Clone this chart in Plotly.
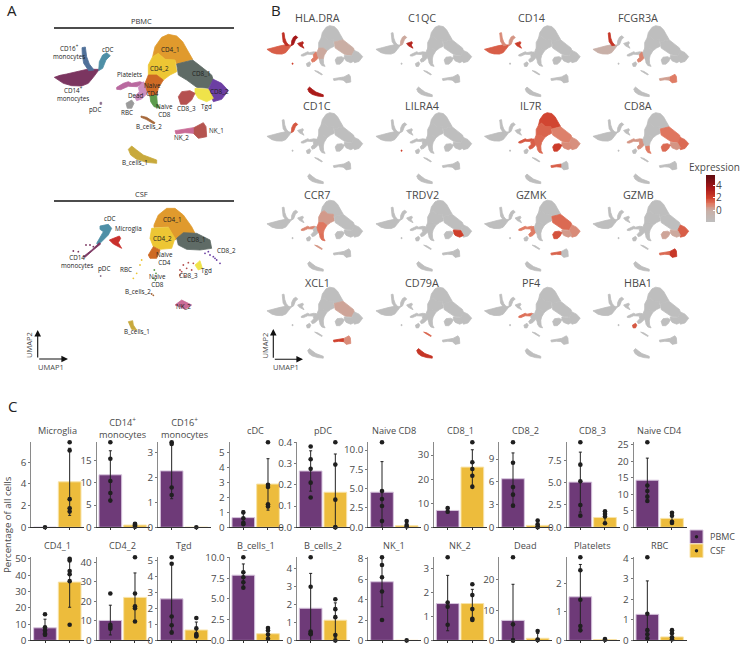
import plotly.graph_objects as go
from plotly.colors import sample_colorscale

W, H = 741, 647
FONT = "Open Sans"
TXT = "#4a4a4a"

# ------------------------- panel C data -------------------------
PANELS = ["Microglia", "CD14<sup>+</sup><br>monocytes", "CD16<sup>+</sup><br>monocytes", "cDC", "pDC",
          "Naive CD8", "CD8_1", "CD8_2", "CD8_3", "Naive CD4",
          "CD4_1", "CD4_2", "Tgd", "B_cells_1", "B_cells_2",
          "NK_1", "NK_2", "Dead", "Platelets", "RBC"]
Y_MAX = [7.85, 19.1, 3.42, 5.7, 0.4, 11.0, 35.3, 11.2, 9.5, 25.8,
         50.9, 42.5, 5.2, 10.0, 4.65, 8.15, 3.45, 27.4, 2.9, 4.05]
Y_TICKS = [["0", "2", "4", "6"], ["0", "5", "10", "15"], ["0", "1", "2", "3"], ["0", "1", "2", "3", "4", "5"],
           ["0.0", "0.1", "0.2", "0.3", "0.4"], ["0.0", "2.5", "5.0", "7.5", "10.0"], ["0", "10", "20", "30"],
           ["0", "3", "6", "9"], ["0.0", "2.5", "5.0", "7.5"], ["0", "5", "10", "15", "20", "25"],
           ["0", "10", "20", "30", "40", "50"], ["0", "10", "20", "30", "40"], ["0", "1", "2", "3", "4", "5"],
           ["0.0", "2.5", "5.0", "7.5", "10.0"], ["0", "1", "2", "3", "4"], ["0", "2", "4", "6", "8"],
           ["0", "1", "2", "3"], ["0", "10", "20"], ["0", "1", "2"], ["0", "1", "2", "3", "4"]]
PBMC_MEAN = [0, 11.8, 2.27, 0.65, 0.265, 4.55, 7.0, 6.4, 5.05, 14.3,
             7.7, 10.2, 2.6, 7.85, 1.8, 5.75, 1.53, 6.6, 1.52, 1.27]
PBMC_LO = [0, 6.0, 1.15, 0.2, 0.17, 0, 6.0, 2.7, 1.7, 7.8,
           2.7, 2.8, 0.4, 6.4, 0, 3.3, 0.4, 0, 0.4, 0]
PBMC_HI = [0, 17.2, 3.42, 1.1, 0.36, 8.5, 8.0, 9.8, 8.4, 21.0,
           13.0, 18.0, 4.85, 9.2, 3.75, 8.15, 2.7, 18.5, 2.65, 2.9]
PBMC_POINTS = [[0], [19.1, 15.4, 10.4, 7.7, 6.0], [3.42, 3.35, 1.6, 1.3], [1.0, 0.6, 0.3, 0.2],
               [0.38, 0.32, 0.275, 0.21, 0.14], [11.0, 4.7, 3.65, 2.75, 0.8], [8.0, 6.5],
               [11.2, 8.5, 5.3, 4.3, 2.85], [9.5, 7.0, 5.15, 2.5, 1.3], [25.8, 12.7, 11.0, 9.3, 8.0],
               [16.0, 8.0, 6.0, 4.0, 3.5], [24.0, 8.0, 7.0, 6.0], [5.2, 4.8, 1.5, 0.95, 0.5],
               [10.0, 8.2, 7.6, 7.0, 6.35], [4.65, 3.0, 0.5, 0.4, 0.35], [8.15, 7.4, 6.2, 4.8, 2.0],
               [3.45, 1.57, 1.4, 0.65], [27.4, 5.3, 0, 0], [2.9, 2.45, 1.42, 0.5, 0.35], [4.05, 1.3, 0.5, 0.3, 0.1]]
CSF_MEAN = [4.2, 0.5, 0, 2.9, 0.165, 0.2, 25.0, 0.25, 1.1, 2.7,
            35.7, 22.0, 0.65, 0.8, 1.13, 0, 1.53, 0.7, 0.03, 0.17]
CSF_LO = [1.1, 0.1, 0, 1.15, 0, 0, 17.5, 0, 0.45, 1.1,
          20.3, 9.8, 0.2, 0, 0.15, 0, 0.87, 0, 0, 0]
CSF_HI = [7.3, 0.9, 0, 4.6, 0.345, 0.6, 32.2, 0.8, 1.7, 4.3,
          50.9, 34.5, 1.15, 1.6, 2.1, 0, 2.12, 2.3, 0.05, 0.42]
CSF_POINTS = [[7.85, 7.1, 2.6, 1.75, 1.45], [0.8, 0.6, 0.4, 0.1], [0], [5.7, 2.85, 2.7, 1.55, 1.4],
              [0.4, 0.295, 0.13, 0, 0], [0.8, 0.3, 0.1], [35.3, 27.0, 24.2, 21.4, 16.8], [0.9, 0.4, 0.1, 0],
              [1.8, 1.5, 1.2, 0.45], [4.4, 3.5, 1.7, 1.3], [50.0, 49.0, 42.5, 40.5, 36.3, 9.6],
              [42.5, 24.0, 17.5, 16.5, 9.7], [1.4, 0.75, 0.4, 0.3, 0.25], [1.5, 1.2, 0.7, 0.2],
              [2.3, 1.75, 1.3, 0.3, 0], [0], [2.33, 1.88, 1.3, 0.9, 0.85], [3.1, 0.3, 0.1], [0.05, 0.02],
              [0.5, 0.35, 0.15, 0.05]]

# ------------------------- UMAP outlines -------------------------
CLUSTER_COLOR = {"CD14_mono": "#7B3560", "CD16_mono": "#4F7099", "cDC": "#4E8FA6", "Microglia": "#C9302C",
                 "pDC": "#8B6F8F", "Platelets": "#B9699F", "Dead": "#CC8FC0", "RBC": "#9A9A9A",
                 "Naive_CD4": "#CE6A24", "Naive_CD8": "#5D9B4C", "CD4_1": "#E09A2D", "CD4_2": "#EDC634",
                 "CD8_1": "#5F6B66", "CD8_2": "#6C3FA3", "CD8_3": "#B5504F", "Tgd": "#EFE34A",
                 "NK_1": "#B5544F", "NK_2": "#C96B96", "B_cells_1": "#C8A93C", "B_cells_2": "#A6683A"}
PBMC_SHAPES = {
    "CD14_mono": [(163, 232), (180, 226), (200, 222), (235, 213), (265, 207), (285, 208), (298, 208), (280, 232), (265, 250), (245, 258), (215, 257), (190, 250), (170, 238)],
    "CD16_mono": [(246, 143), (256, 141), (260, 170), (268, 192), (282, 210), (266, 212), (251, 190), (247, 165)],
    "cDC": [(320, 158), (331, 167), (318, 180), (308, 205), (296, 212), (298, 185), (308, 165)],
    "pDC": [(300, 307), (305, 307), (305, 313), (300, 313)],
    "Platelets": [(350, 262), (370, 250), (385, 245), (395, 250), (420, 245), (432, 250), (410, 260), (385, 259), (362, 269), (350, 268)],
    "Dead": [(430, 245), (445, 265), (440, 282), (425, 297), (410, 302), (404, 290), (418, 275), (415, 262)],
    "RBC": [(378, 310), (395, 300), (402, 310), (395, 325), (382, 325)],
    "CD4_1": [(458, 170), (465, 140), (485, 112), (505, 103), (530, 108), (548, 125), (562, 150), (578, 178), (555, 185), (530, 192), (525, 180), (495, 178), (475, 160)],
    "CD4_2": [(458, 170), (475, 160), (495, 178), (525, 180), (530, 215), (510, 225), (490, 240), (470, 225), (445, 225), (445, 195)],
    "CD8_1": [(530, 192), (555, 185), (578, 180), (610, 205), (635, 225), (640, 240), (625, 265), (590, 262), (560, 240), (535, 225)],
    "CD8_2": [(640, 238), (665, 250), (685, 272), (665, 298), (640, 305), (625, 268)],
    "Tgd": [(585, 265), (625, 268), (640, 295), (620, 305), (595, 295), (585, 280)],
    "CD8_3": [(535, 290), (545, 275), (570, 272), (585, 280), (575, 300), (560, 313), (542, 313)],
    "Naive_CD4": [(435, 250), (445, 225), (470, 225), (490, 240), (475, 265), (470, 285), (450, 290), (440, 270)],
    "Naive_CD8": [(450, 288), (470, 285), (472, 310), (480, 325), (462, 320), (452, 305)],
    "B_cells_2": [(423, 348), (440, 352), (465, 368), (462, 372), (438, 358), (423, 352)],
    "NK_1": [(578, 385), (610, 368), (618, 380), (620, 410), (595, 415), (580, 400)],
    "NK_2": [(525, 392), (550, 388), (580, 383), (580, 400), (555, 398), (528, 402)],
    "B_cells_1": [(385, 448), (395, 438), (410, 450), (430, 465), (470, 480), (470, 490), (440, 487), (410, 478), (392, 465)],
}
MICROGLIA_SHAPE = [(330, 200), (358, 190), (362, 197), (355, 208), (365, 226), (355, 221), (340, 213)]
CSF_SHAPES = {
    "cDC": [(300, 108), (325, 103), (335, 115), (325, 135), (310, 150), (295, 165), (290, 160), (300, 140), (310, 125), (300, 118)],
    "Microglia": [(328, 150), (358, 138), (362, 145), (355, 158), (365, 175), (355, 170), (340, 162)],
    "CD14_mono": [(250, 200), (275, 180), (298, 158), (302, 162), (280, 180), (255, 202)],
    "CD4_1": [(462, 105), (475, 75), (500, 55), (525, 55), (550, 75), (575, 110), (585, 130), (550, 130), (525, 150), (505, 110), (462, 112)],
    "CD4_2": [(455, 115), (505, 112), (525, 145), (515, 175), (480, 178), (460, 170), (450, 145)],
    "CD8_1": [(530, 145), (550, 128), (590, 130), (630, 150), (635, 175), (600, 180), (560, 178), (535, 165)],
    "Naive_CD4": [(445, 195), (460, 170), (480, 180), (470, 205), (450, 205)],
    "Tgd": [(585, 225), (600, 212), (607, 235), (595, 240)],
    "NK_2": [(525, 345), (545, 330), (565, 340), (575, 345), (555, 358), (540, 350)],
    "B_cells_1": [(385, 395), (398, 392), (400, 405), (410, 420), (395, 418), (388, 405)],
}
CSF_SPARSE = {
    "CD14_mono": [(220, 183), (258, 165), (270, 165), (235, 185), (280, 170)],
    "CD8_2": [(615, 190), (630, 195), (640, 200), (650, 210), (660, 220), (645, 205), (625, 185)],
    "CD8_3": [(540, 240), (550, 225), (565, 218), (580, 220), (575, 240), (555, 258), (540, 255), (545, 245), (560, 235)],
    "Naive_CD8": [(463, 240), (468, 250), (460, 265), (466, 270)],
    "CD4_2": [(425, 210), (420, 225), (410, 250), (400, 265)],
    "B_cells_2": [(455, 312), (460, 316)],
    "pDC": [(302, 258)],
}
PBMC_LABELS = [("CD16<sup>+</sup><br>monocytes", 208, 155), ("cDC", 323, 147), ("CD14<sup>+</sup><br>monocytes", 218, 282),
               ("Platelets", 388, 222), ("Naive<br>CD4", 458, 267), ("Dead", 407, 287), ("pDC", 285, 328), ("RBC", 382, 338),
               ("Naive<br>CD8", 493, 330), ("CD8_3", 560, 326), ("Tgd", 620, 318), ("CD8_1", 603, 220), ("CD8_2", 657, 274),
               ("CD4_1", 512, 148), ("CD4_2", 478, 206), ("B_cells_2", 447, 380), ("NK_1", 648, 390), ("NK_2", 545, 412),
               ("B_cells_1", 405, 488)]
CSF_LABELS = [("cDC", 330, 85), ("Microglia", 384, 115), ("CD14<br>monocytes", 232, 213), ("pDC", 313, 235), ("RBC", 378, 238),
              ("CD4_1", 518, 87), ("CD4_2", 486, 145), ("CD8_1", 588, 148), ("CD8_2", 678, 182), ("Naive<br>CD4", 493, 205),
              ("Naive<br>CD8", 472, 272), ("CD8_3", 565, 257), ("Tgd", 620, 241), ("B_cells_2", 413, 304), ("NK_2", 550, 349),
              ("B_cells_1", 410, 425)]

# ------------------------- panel B expression per cluster -------------------------
GENES = ["HLA.DRA", "C1QC", "CD14", "FCGR3A", "CD1C", "LILRA4", "IL7R", "CD8A",
         "CCR7", "TRDV2", "GZMK", "GZMB", "XCL1", "CD79A", "PF4", "HBA1"]
GENE_EXPR = [
    {"CD14_mono": 1.5, "CD16_mono": 2.6, "cDC": 3.6, "Microglia": 3.0, "pDC": 2.0, "B_cells_1": 3.4, "Dead": 1.0, "Naive_CD4": 0.1, "CD8_1": 0.0},
    {"Microglia": 3.0, "cDC": 0.1},
    {"CD14_mono": 1.5, "CD16_mono": 0.7, "Microglia": 2.2, "cDC": 0.5},
    {"CD16_mono": 2.4, "CD14_mono": -0.2, "NK_1": 1.0, "NK_2": 0.3, "Dead": 0.8},
    {"cDC": 1.6},
    {"pDC": 2.0},
    {"CD4_1": 1.9, "CD4_2": 1.4, "Naive_CD4": 1.3, "Naive_CD8": 1.3, "CD8_1": 0.9, "CD8_3": 2.1, "Tgd": 0.7, "CD8_2": 0.6, "Platelets": 1.6, "Dead": 1.5, "NK_2": 1.5},
    {"CD8_1": 1.1, "CD8_2": 1.3, "CD8_3": 1.3, "Naive_CD8": 1.0, "Tgd": 0.5, "Dead": 0.6, "Platelets": 0.5},
    {"Naive_CD4": 1.1, "CD4_2": 0.4, "Naive_CD8": 1.2, "Platelets": 0.8, "B_cells_2": 0.5},
    {"Tgd": 2.0},
    {"CD8_1": 1.3, "CD8_3": 1.7, "CD8_2": 0.7, "Tgd": 0.4, "NK_2": 1.4, "Dead": 1.0, "Platelets": 1.0},
    {"CD8_2": 1.5, "NK_1": 2.3, "NK_2": 1.3, "CD8_3": 0.2, "Tgd": 0.1},
    {"NK_2": 2.0, "NK_1": 0.7, "CD8_1": 0.2},
    {"B_cells_1": 2.4, "B_cells_2": 1.4},
    {"Platelets": 1.2},
    {"RBC": 1.6},
]
CB_MIN, CB_MAX = -1.9, 5.6
CB_SCALE = [[0, "#BEBEBE"], [0.25, "#C9AFA6"], [0.39, "#E07B63"], [0.52, "#CF3F2B"], [0.72, "#A81818"], [1, "#5E0A10"]]
CB_TICKS = ["0", "2", "4"]

# ------------------------- layout geometry (pixels) -------------------------
fig = go.Figure()
layout = {}
annots = []
shapes = []
axis_no = [0]


def px_x(p):
    return p / W


def px_y(p):
    return 1 - p / H


def new_axes(x0, x1, y0, y1, xopts, yopts):
    axis_no[0] += 1
    n = axis_no[0]
    sx = "" if n == 1 else str(n)
    layout["xaxis" + sx] = dict(domain=[px_x(x0), px_x(x1)], anchor="y" + sx, **xopts)
    layout["yaxis" + sx] = dict(domain=[px_y(y1), px_y(y0)], anchor="x" + sx, **yopts)
    return "x" + sx, "y" + sx


HIDE = dict(visible=False, fixedrange=True)


def poly(pts, color, xr, yr):
    fig.add_trace(go.Scatter(x=[p[0] for p in pts] + [pts[0][0]], y=[p[1] for p in pts] + [pts[0][1]],
                             mode="lines", fill="toself", fillcolor=color,
                             line=dict(color=color, width=0.8),
                             hoverinfo="skip", showlegend=False, xaxis=xr, yaxis=yr))


def label(text, x, y, xr, yr, size=6.3):
    annots.append(dict(text=text, x=x, y=y, xref=xr, yref=yr, showarrow=False,
                       font=dict(family=FONT, size=size, color="#222222"), align="center", xanchor="center", yanchor="middle"))


# Panel A
UX0, UX1, UY_SPAN = 150, 700, 420
xa, ya = new_axes(50, 233.33, 30, 170, dict(range=[UX0, UX1], **HIDE), dict(range=[90 + UY_SPAN, 90], **HIDE))
for name, pts in PBMC_SHAPES.items():
    poly(pts, CLUSTER_COLOR[name], xa, ya)
for t, x, y in PBMC_LABELS:
    label(t, x, y, xa, ya)

xa, ya = new_axes(50, 233.33, 203, 343, dict(range=[UX0, UX1], **HIDE), dict(range=[39 + UY_SPAN, 39], **HIDE))
for name, pts in CSF_SHAPES.items():
    poly(pts, CLUSTER_COLOR[name], xa, ya)
for name, pts in CSF_SPARSE.items():
    fig.add_trace(go.Scatter(x=[p[0] for p in pts], y=[p[1] for p in pts], mode="markers",
                             marker=dict(size=1.8, color=CLUSTER_COLOR[name]), hoverinfo="skip",
                             showlegend=False, xaxis=xa, yaxis=ya))
for t, x, y in CSF_LABELS:
    label(t, x, y, xa, ya)

# Panel B
COL_LEFT = [264.6, 373.6, 482.1, 590.6]
TITLE_X = [317, 422, 531, 638]
ROW_TOP = [23.3, 110.3, 197.8, 284.8]
TITLE_Y = [18, 106, 194, 282]
SCALE = 0.55
for i, g in enumerate(GENES):
    c, r = i % 4, i // 4
    x0, y0 = COL_LEFT[c], ROW_TOP[r]
    xa, ya = new_axes(x0, x0 + 550 / 3 * SCALE, y0, y0 + 140 * SCALE,
                      dict(range=[UX0, UX1], **HIDE), dict(range=[90 + UY_SPAN, 90], **HIDE))
    expr = GENE_EXPR[i]
    shapes_here = dict(PBMC_SHAPES)
    shapes_here["Microglia"] = MICROGLIA_SHAPE
    for name, pts in shapes_here.items():
        val = expr.get(name)
        col = "#BEBEBE" if val is None else sample_colorscale(CB_SCALE, (val - CB_MIN) / (CB_MAX - CB_MIN))[0]
        poly(pts, col, xa, ya)
    annots.append(dict(text=g, x=px_x(TITLE_X[c]), y=px_y(TITLE_Y[r]), xref="paper", yref="paper", showarrow=False,
                       font=dict(family=FONT, size=10.8, color=TXT), xanchor="center", yanchor="middle"))

# Colour bar drawn on its own small axis
N_GRAD = 60
grad = [CB_MIN + (CB_MAX - CB_MIN) * k / (N_GRAD - 1) for k in range(N_GRAD)]
xa, ya = new_axes(706, 715, 175, 222, dict(range=[0, 1], **HIDE),
                  dict(range=[CB_MIN, CB_MAX], side="right", tickmode="array", tickvals=[float(t) for t in CB_TICKS], ticktext=CB_TICKS,
                       ticks="inside", ticklen=2, tickcolor="white", showline=False, showgrid=False, zeroline=False, fixedrange=True,
                       tickfont=dict(family=FONT, size=10, color=TXT)))
fig.add_trace(go.Heatmap(x=[0, 1], y=grad, z=[[v, v] for v in grad], zmin=CB_MIN, zmax=CB_MAX, colorscale=CB_SCALE, showscale=False,
                         hoverinfo="skip", xaxis=xa, yaxis=ya))
annots.append(dict(text="Expression", x=px_x(687), y=px_y(167), xref="paper", yref="paper", showarrow=False, xanchor="left",
                   yanchor="middle", font=dict(family=FONT, size=10, color=TXT)))

# Panel C
CENTERS = [135, 331, 515, 730, 932, 1146, 1343, 1539, 1741, 1942]
ROWS = [(442.3, 527.3, 430), (557.3, 640.4, 545.5)]
UNIT = 74 / 3
COL_P, COL_C = "#6E3A78", "#EDBC3C"
EDGE_P, EDGE_C = "#D8C6DE", "#F8E3A8"
for i, title in enumerate(PANELS):
    r, c = i // 10, i % 10
    top, bot, ty = ROWS[r]
    cx = CENTERS[c] / 3
    x0 = cx - 0.55 * UNIT
    x1 = x0 + 2.15 * UNIT
    tv = [float(t) for t in Y_TICKS[i]]
    xa, ya = new_axes(x0, x1, top, bot,
                      dict(range=[-0.55, 1.6], tickmode="array", tickvals=[0, 1], showticklabels=False, ticks="outside", ticklen=2,
                           tickcolor="#333333", showline=True, linecolor="#333333", linewidth=1, showgrid=False, zeroline=False, fixedrange=True),
                      dict(range=[0, Y_MAX[i]], tickmode="array", tickvals=tv, ticktext=Y_TICKS[i], ticks="outside", ticklen=2,
                           ticklabeloverflow="allow", tickcolor="#777777", showline=True, linecolor="#8A8A8A", linewidth=1.2, showgrid=False,
                           zeroline=False, tickfont=dict(family=FONT, size=9.8, color=TXT), fixedrange=True))
    for k, (mean, lo, hi, pts, col, edge) in enumerate([
            (PBMC_MEAN[i], PBMC_LO[i], PBMC_HI[i], PBMC_POINTS[i], COL_P, EDGE_P),
            (CSF_MEAN[i], CSF_LO[i], CSF_HI[i], CSF_POINTS[i], COL_C, EDGE_C)]):
        fig.add_trace(go.Bar(x=[k], y=[mean], width=0.92, marker=dict(color=col, line=dict(color=edge, width=1)),
                             error_y=dict(type="data", symmetric=False, array=[hi - mean], arrayminus=[mean - lo],
                                          color="#222222", thickness=1, width=1.5),
                             cliponaxis=False, hoverinfo="skip", showlegend=False, xaxis=xa, yaxis=ya))
        fig.add_trace(go.Scatter(x=[k] * len(pts), y=pts, mode="markers", marker=dict(size=4.6, color="#1F1F1F"),
                                 cliponaxis=False, hoverinfo="skip", showlegend=False, xaxis=xa, yaxis=ya))
    annots.append(dict(text=title, x=px_x((CENTERS[c] + 37) / 3), y=px_y(ty - (2 if "<br>" in title else 0)), xref="paper", yref="paper",
                       showarrow=False, align="center", font=dict(family=FONT, size=9.2, color=TXT), xanchor="center", yanchor="middle"))

annots.append(dict(text="Percentage of all cells", x=px_x(7), y=px_y(525), xref="paper", yref="paper", textangle=-90, showarrow=False,
                   font=dict(family=FONT, size=9.6, color=TXT), xanchor="center", yanchor="middle"))

# Legend
for col, edge, y0, name in [(COL_P, EDGE_P, 530, "PBMC"), (COL_C, EDGE_C, 544, "CSF")]:
    shapes.append(dict(type="rect", xref="paper", yref="paper", x0=px_x(690), x1=px_x(703), y0=px_y(y0), y1=px_y(y0 + 13.5),
                       fillcolor=col, line=dict(color=edge, width=1)))
    shapes.append(dict(type="circle", xref="paper", yref="paper", x0=px_x(694.8), x1=px_x(698.2), y0=px_y(y0 + 5), y1=px_y(y0 + 8.4),
                       fillcolor="#1F1F1F", line=dict(width=0)))
    annots.append(dict(text=name, x=px_x(708), y=px_y(y0 + 6.8), xref="paper", yref="paper", showarrow=False, xanchor="left", yanchor="middle",
                       font=dict(family=FONT, size=9, color=TXT)))

# Header lines, letters, arrows
for txt, y_t, y_l in [("PBMC", 21, 28), ("CSF", 194, 201)]:
    shapes.append(dict(type="line", xref="paper", yref="paper", x0=px_x(54), x1=px_x(234), y0=px_y(y_l), y1=px_y(y_l), line=dict(color="#111111", width=1.6)))
    annots.append(dict(text=txt, x=px_x(141), y=px_y(y_t), xref="paper", yref="paper", showarrow=False,
                       font=dict(family=FONT, size=7.5, color="#333333"), xanchor="center", yanchor="middle"))
for txt, x, y in [("A", 12, 10), ("B", 276, 10), ("C", 12, 406)]:
    annots.append(dict(text=txt, x=px_x(x), y=px_y(y), xref="paper", yref="paper", showarrow=False,
                       font=dict(family=FONT, size=15, color="#222222"), xanchor="center", yanchor="middle"))
for ox, oy, tipx, tipy, lx, ly, l2x, l2y in [(37.7, 359, 68, 330, 51, 367, 29, 345), (273.3, 359.3, 303, 329, 286, 367, 264.5, 346)]:
    annots.append(dict(text="", x=px_x(tipx), y=px_y(oy), xref="paper", yref="paper", ax=ox - tipx, ay=0,
                       showarrow=True, arrowhead=2, arrowsize=1.2, arrowwidth=1.1, arrowcolor="#111111"))
    annots.append(dict(text="", x=px_x(ox), y=px_y(tipy), xref="paper", yref="paper", ax=0, ay=oy - tipy,
                       showarrow=True, arrowhead=2, arrowsize=1.2, arrowwidth=1.1, arrowcolor="#111111"))
    annots.append(dict(text="UMAP1", x=px_x(lx), y=px_y(ly), xref="paper", yref="paper", showarrow=False, xanchor="center", yanchor="middle",
                       font=dict(family=FONT, size=7.5, color=TXT)))
    annots.append(dict(text="UMAP2", x=px_x(l2x), y=px_y(l2y), xref="paper", yref="paper", textangle=-90, showarrow=False, xanchor="center",
                       yanchor="middle", font=dict(family=FONT, size=7.5, color=TXT)))

fig.update_layout(width=W, height=H, margin=dict(l=0, r=0, t=0, b=0, autoexpand=False), paper_bgcolor="white", plot_bgcolor="rgba(0,0,0,0)",
                  showlegend=False, barmode="overlay", annotations=annots, shapes=shapes, font=dict(family=FONT), **layout)
fig.write_html("out.html", config=dict(displayModeBar=False), post_script="document.body.style.margin='0';")
